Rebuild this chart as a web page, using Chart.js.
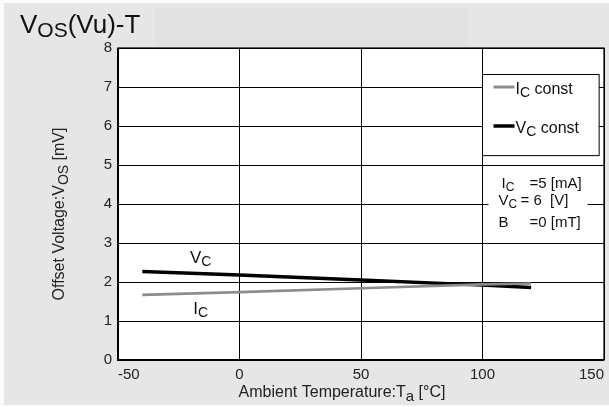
<!DOCTYPE html>
<html>
<head>
<meta charset="utf-8">
<script src="https://cdn.jsdelivr.net/npm/chart.js@4.4.1/dist/chart.umd.min.js"></script>
<style>
  html, body { margin:0; padding:0; background:#fff; }
  #wrap { width:609px; height:407px; position:relative; }
</style>
</head>
<body>
<div id="wrap"><canvas id="c" width="609" height="407"></canvas></div>
<script>
// values
const temps   = [-40, 0, 50, 100, 120];
const vcConst = [2.27, 2.18, 2.05, 1.92, 1.86];
const icConst = [1.67, 1.74, 1.84, 1.94, 1.96];
const xTicks  = [-50, 0, 50, 100, 150];
const yTicks  = [0, 1, 2, 3, 4, 5, 6, 7, 8];

const FONT = '"Liberation Sans", Arial, sans-serif';
const BG = '#e6e6e6';

function pts(xs, ys) { return xs.map((x, i) => ({x, y: ys[i]})); }

// text with subscript parts: parts = [[text, isSub], ...]
function subText(ctx, parts, x, y, size, subSize, drop) {
    let cx = x;
    parts.forEach(([t, sub]) => {
        ctx.font = (sub ? subSize : size) + 'px ' + FONT;
        ctx.fillText(t, cx, sub ? y + drop : y);
        cx += ctx.measureText(t).width;
    });
    return cx - x;
}
function subWidth(ctx, parts, size, subSize) {
    let w = 0;
    parts.forEach(([t, sub]) => {
        ctx.font = (sub ? subSize : size) + 'px ' + FONT;
        w += ctx.measureText(t).width;
    });
    return w;
}

const decor = {
    id: 'decor',
    beforeDraw(chart) {
        const ctx = chart.ctx, a = chart.chartArea;
        ctx.save();
        ctx.fillStyle = '#fbfbfb';
        ctx.fillRect(0, 0, chart.width, chart.height);
        ctx.fillStyle = BG;
        ctx.fillRect(4, 3, chart.width - 4, chart.height - 5);
        ctx.fillStyle = '#e1e1e1';
        ctx.fillRect(155, 8, 313, 38);
        ctx.fillStyle = '#fff';
        ctx.fillRect(a.left, a.top, a.right - a.left, a.bottom - a.top);
        ctx.restore();
    },
    afterDraw(chart) {
        const ctx = chart.ctx, a = chart.chartArea;
        const xs = chart.scales.x, ys = chart.scales.y;
        ctx.save();
        ctx.fillStyle = '#111';
        ctx.textBaseline = 'alphabetic';

        // title
        ctx.font = '26px ' + FONT;
        ctx.fillText('V', 20, 33);
        let tx = 20 + ctx.measureText('V').width;
        ctx.font = '21px ' + FONT;
        ctx.fillText('OS', tx, 37);
        tx += ctx.measureText('OS').width;
        ctx.font = '26px ' + FONT;
        ctx.fillText('(Vu)-T', tx, 33);

        // axis frame
        ctx.strokeStyle = '#000';
        ctx.lineWidth = 1.2;
        ctx.strokeRect(a.left, a.top, a.right - a.left, a.bottom - a.top);
        ctx.lineWidth = 2;
        ctx.beginPath();
        ctx.moveTo(a.left, a.top); ctx.lineTo(a.left, a.bottom); ctx.lineTo(a.right, a.bottom);
        ctx.stroke();

        // y title (rotated)
        ctx.fillStyle = '#222';
        const yParts = [['Offset Voltage:V', false], ['OS', true], [' [mV]', false]];
        ctx.save();
        ctx.translate(64, 214);
        ctx.rotate(-Math.PI / 2);
        const yw = subWidth(ctx, yParts, 16, 14);
        subText(ctx, yParts, -yw / 2, 0, 16, 14, 4);
        ctx.restore();

        // x title
        const xParts = [['Ambient Temperature:T', false], ['a', true], [' [\u00b0C]', false]];
        const xw = subWidth(ctx, xParts, 16, 15);
        subText(ctx, xParts, 342 - xw / 2, 397, 16, 15, 4);

        // legend box
        const g100 = xs.getPixelForValue(100);
        const lx0 = g100, lx1 = xs.getPixelForValue(148);
        const ly0 = ys.getPixelForValue(7.33), ly1 = ys.getPixelForValue(5.25);
        ctx.fillStyle = '#fff';
        ctx.fillRect(lx0, ly0, lx1 - lx0, ly1 - ly0);
        ctx.strokeStyle = '#000';
        ctx.lineWidth = 1;
        ctx.strokeRect(Math.round(lx0 - 0.5) + 0.5, Math.round(ly0) + 0.5, lx1 - lx0, ly1 - ly0);
        const entries = [
            {y: 7, color: '#8c8c8c', w: 3, parts: [['I', false], ['C', true], [' const', false]]},
            {y: 6, color: '#000', w: 3.5, parts: [['V', false], ['C', true], [' const', false]]}
        ];
        entries.forEach(e => {
            const py = ys.getPixelForValue(e.y);
            ctx.strokeStyle = e.color; ctx.lineWidth = e.w;
            ctx.beginPath(); ctx.moveTo(lx0 + 11, py); ctx.lineTo(lx0 + 32, py); ctx.stroke();
            ctx.fillStyle = '#111';
            subText(ctx, e.parts, lx0 + 33, py + 7, 16, 14, 3);
        });

        // conditions note
        const nTop = ys.getPixelForValue(4.75), nBot = ys.getPixelForValue(3.3);
        ctx.fillStyle = '#fff';
        ctx.fillRect(g100 + 6, nTop, 99, nBot - nTop);
        const notes = [
            {y: 4.42, label: 'I', sub: 'C', lx: 19, val: '=5 [mA]', vx: 47},
            {y: 3.97, label: 'V', sub: 'C', lx: 16, val: '= 6  [V]', vx: 38},
            {y: 3.41, label: 'B', sub: '',  lx: 16, val: '=0 [mT]', vx: 47}
        ];
        ctx.fillStyle = '#111';
        notes.forEach(n => {
            const py = ys.getPixelForValue(n.y);
            subText(ctx, [[n.label, false], [n.sub, true]], g100 + n.lx, py, 15, 12, 3);
            ctx.font = '15px ' + FONT;
            ctx.fillText(n.val, g100 + n.vx, py);
        });
        // the 100 gridline runs through the note
        ctx.strokeStyle = '#000'; ctx.lineWidth = 1;
        const gx = Math.round(g100 - 0.5) + 0.5;
        ctx.beginPath(); ctx.moveTo(gx, nTop - 1); ctx.lineTo(gx, nBot + 1); ctx.stroke();

        // curve labels
        ctx.fillStyle = '#111';
        subText(ctx, [['V', false], ['C', true]], xs.getPixelForValue(-20.4), ys.getPixelForValue(2.5), 17, 14, 3);
        subText(ctx, [['I', false], ['C', true]], xs.getPixelForValue(-19), ys.getPixelForValue(1.17), 17, 14, 3);
        ctx.restore();
    }
};

new Chart(document.getElementById('c'), {
    type: 'line',
    data: {
        datasets: [
            {label: 'Ic const', data: pts(temps, icConst), borderColor: '#8c8c8c', borderWidth: 2.6,
             pointRadius: 0, tension: 0, fill: false},
            {label: 'Vc const', data: pts(temps, vcConst), borderColor: '#000', borderWidth: 3.4,
             pointRadius: 0, tension: 0, fill: false}
        ]
    },
    options: {
        responsive: false,
        animation: false,
        layout: { padding: { top: 48, right: 5, left: 0, bottom: 0 } },
        plugins: { legend: { display: false }, tooltip: { enabled: false } },
        scales: {
            x: {
                type: 'linear', min: -50, max: 150,
                afterBuildTicks: s => { s.ticks = xTicks.map(v => ({value: v})); },
                afterFit: s => { s.height = 47; s.paddingLeft = 0; s.paddingRight = 0; },
                grid: { color: '#000', lineWidth: 1, drawTicks: false },
                border: { display: false },
                ticks: { color: '#222', font: { family: FONT, size: 15 }, padding: 6,
                         maxRotation: 0, align: 'inner' }
            },
            y: {
                min: 0, max: 8,
                afterBuildTicks: s => { s.ticks = yTicks.map(v => ({value: v})); },
                afterFit: s => { s.width = 118; s.paddingTop = 0; s.paddingBottom = 0; },
                grid: { color: '#000', lineWidth: 1, drawTicks: false },
                border: { display: false },
                ticks: { color: '#222', font: { family: FONT, size: 15 }, padding: 6 }
            }
        }
    },
    plugins: [decor]
});
</script>
</body>
</html>
